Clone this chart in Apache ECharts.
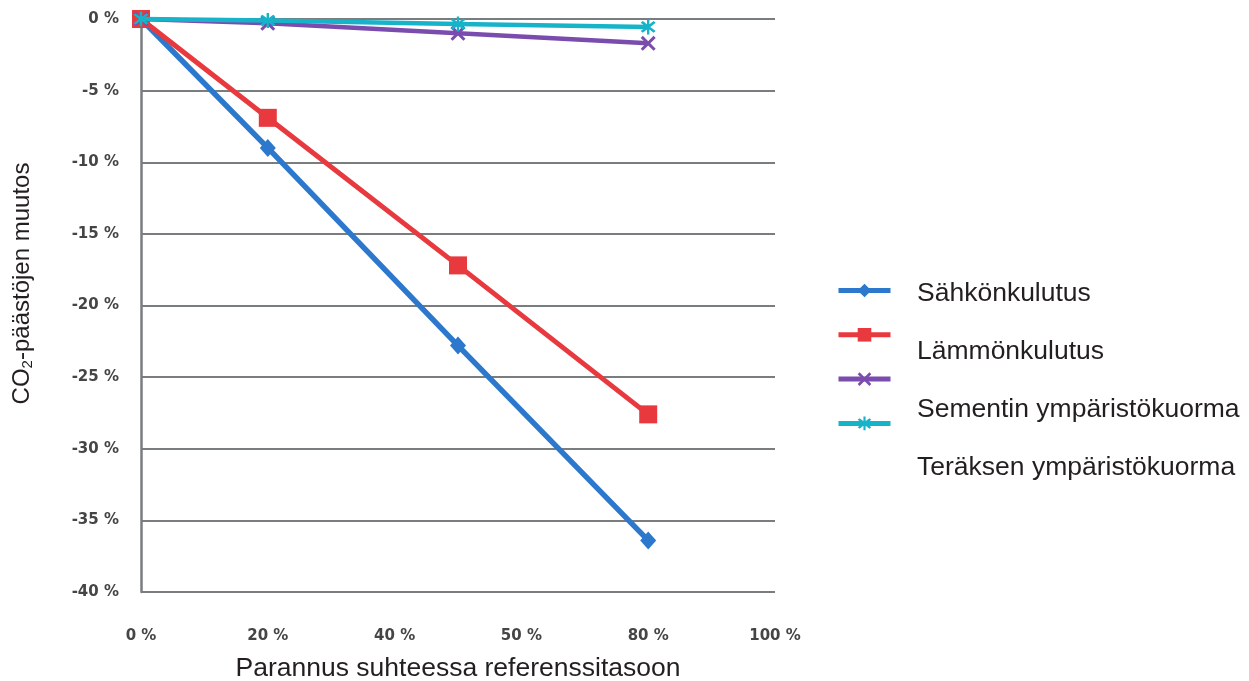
<!DOCTYPE html>
<html>
<head>
<meta charset="utf-8">
<script src="https://cdn.jsdelivr.net/npm/echarts@6/dist/echarts.min.js"></script>
<style>
  html, body { margin: 0; padding: 0; background: #ffffff; }
  #chart { width: 1249px; height: 681px; }
</style>
</head>
<body>
<div id="chart"></div>
<script>
// Improvement level (% relative to reference) at which each case was computed
const improvement = [0, 20, 50, 80];

// CO2 emission change (%) per case
const sahkonkulutus = [0, -9.0, -22.8, -36.4];
const lammonkulutus = [0, -6.9, -17.2, -27.6];
const sementti = [0, -0.3, -1.0, -1.7];
const teras = [0, -0.1, -0.35, -0.55];

// Series names
const seriesNames = ['Sähkönkulutus', 'Lämmönkulutus', 'Sementin ympäristökuorma', 'Teräksen ympäristökuorma'];

// Horizontal axis tick labels, one per 20-unit step
const xTickLabels = ['0 %', '20 %', '40 %', '50 %', '80 %', '100 %'];

const colors = ['#2b78cc', '#e8393f', '#7a4cae', '#17b3c8'];

// Marker shapes: filled cross and asterisk
const crossPath = 'path://M0,1.4 L1.4,0 L5,3.6 L8.6,0 L10,1.4 L6.4,5 L10,8.6 L8.6,10 L5,6.4 L1.4,10 L0,8.6 L3.6,5 Z';
const starPath = 'path://M0,1.4 L1.4,0 L5,3.6 L8.6,0 L10,1.4 L6.4,5 L10,8.6 L8.6,10 L5,6.4 L1.4,10 L0,8.6 L3.6,5 Z M4.2,-1.5 L5.8,-1.5 L5.8,11.5 L4.2,11.5 Z';

function pairs(values) {
  return improvement.map((x, i) => [x, values[i]]);
}

const seriesDefs = [
  { values: sahkonkulutus, symbol: 'diamond', size: [16, 18], width: 5.5 },
  { values: lammonkulutus, symbol: 'rect', size: 18, width: 5 },
  { values: sementti, symbol: crossPath, size: 15, width: 4.5 },
  { values: teras, symbol: starPath, size: 15, width: 4.5 }
];

const chart = echarts.init(document.getElementById('chart'), null, { renderer: 'canvas' });

const tickFont = { fontFamily: 'DejaVu Sans', fontWeight: 'bold', fontSize: 15, color: '#454545' };
const titleFont = { fontFamily: 'Liberation Sans', fontSize: 26.5, color: '#231f20' };

chart.setOption({
  backgroundColor: '#ffffff',
  animation: false,
  grid: { left: 141, top: 19, right: 474, bottom: 89, containLabel: false, outerBoundsMode: 'none' },
  xAxis: {
    type: 'value',
    min: 0,
    max: 100,
    interval: 20,
    name: 'Parannus suhteessa referenssitasoon',
    nameLocation: 'middle',
    nameGap: 63,
    nameTextStyle: titleFont,
    axisLine: { show: false },
    axisTick: { show: false },
    splitLine: { show: false },
    axisLabel: Object.assign({
      margin: 37,
      formatter: v => xTickLabels[Math.round(v / 20)]
    }, tickFont)
  },
  yAxis: {
    type: 'value',
    min: -40,
    max: 0,
    interval: 5,
    name: 'CO{sub|2}-päästöjen muutos',
    nameLocation: 'middle',
    nameGap: 106,
    nameTextStyle: {
      fontFamily: 'Liberation Sans',
      fontSize: 24,
      color: '#231f20',
      padding: [0, 0, 0, 44],
      rich: {
        sub: { fontFamily: 'Liberation Sans', fontSize: 15, color: '#231f20', padding: [10, 0, 0, 0] }
      }
    },
    axisLine: { show: true, lineStyle: { color: '#7a7d80', width: 2.5 } },
    axisTick: { show: false },
    splitLine: { show: true, lineStyle: { color: '#7a7d80', width: 2 } },
    axisLabel: Object.assign({
      margin: 22,
      formatter: v => v + ' %'
    }, tickFont)
  },
  legend: [
    {
      orient: 'vertical',
      left: 836,
      top: 282,
      padding: 0,
      itemWidth: 52,
      itemHeight: 17,
      itemGap: 29,
      data: seriesNames,
      lineStyle: { width: 5 },
      formatter: () => '',
      textStyle: { fontSize: 1 }
    },
    {
      orient: 'vertical',
      left: 911,
      top: 280,
      padding: 0,
      itemWidth: 0,
      itemHeight: 1,
      itemGap: 30,
      data: seriesNames,
      itemStyle: { opacity: 0 },
      lineStyle: { opacity: 0 },
      textStyle: Object.assign({ lineHeight: 28 }, titleFont)
    }
  ],
  series: seriesDefs.map((d, i) => ({
    name: seriesNames[i],
    type: 'line',
    data: pairs(d.values),
    symbol: d.symbol,
    symbolSize: d.size,
    showAllSymbol: true,
    clip: false,
    color: colors[i],
    lineStyle: { width: d.width, color: colors[i] },
    itemStyle: { color: colors[i] },
    z: 2 + i
  }))
});
</script>
</body>
</html>
